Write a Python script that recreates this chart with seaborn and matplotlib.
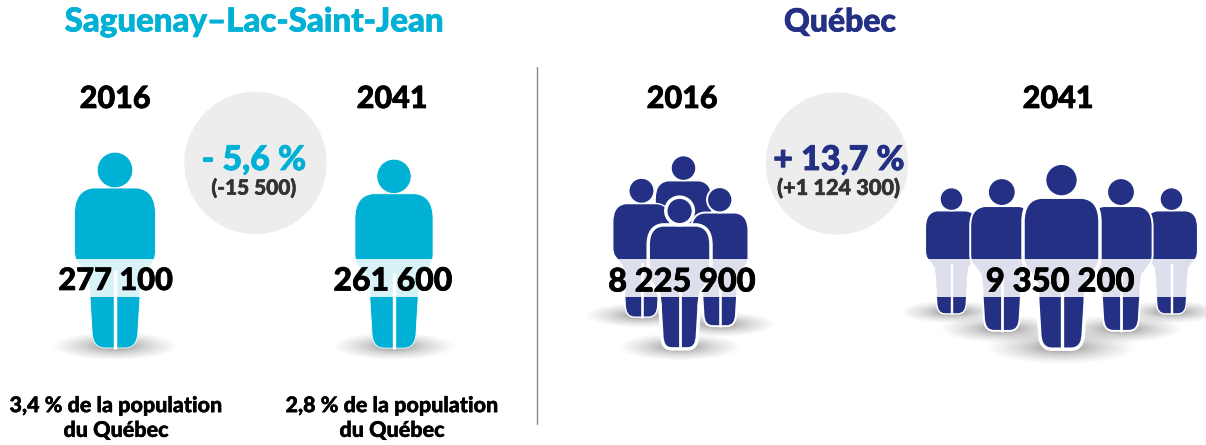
import matplotlib
matplotlib.use('Agg')
import matplotlib.pyplot as plt
import matplotlib.patheffects as pe
import seaborn as sns
from matplotlib.path import Path
from matplotlib.patches import PathPatch, Circle, Ellipse, Rectangle

# data
regions = ['Saguenay–Lac-Saint-Jean', 'Québec']
years = ['2016', '2041', '2016', '2041']
populations = ['277 100', '261 600', '8 225 900', '9 350 200']
changes_pct = ['- 5,6 %', '+ 13,7 %']
changes_abs = ['(-15 500)', '(+1 124 300)']
shares = ['3,4 % de la population\ndu Québec', '2,8 % de la population\ndu Québec']

CYAN = '#00b1d5'
NAVY = '#233084'
FONT = ['Lato', 'DejaVu Sans']

sns.set_theme(style='white')
plt.rcParams['font.family'] = FONT

fig = plt.figure(figsize=(12.06, 4.45), dpi=100)
ax = fig.add_axes([0, 0, 1, 1])
ax.set_xlim(0, 1206)
ax.set_ylim(445, 0)
ax.axis('off')


def label(x, y, text, color, size, stroke=0.5, **kw):
    t = ax.text(x, y, text, color=color, fontsize=size, fontweight='black', ha='center', va='center', zorder=40, **kw)
    t.set_path_effects([pe.withStroke(linewidth=stroke, foreground=color)])


def shadow(cx, y, s):
    n = 70
    for i in range(n):
        k = (1 - i / n) ** 3
        ax.add_patch(Ellipse((cx, y), 125 * s * k, 28 * s * k, fc='black', ec='none', alpha=0.012, zorder=1))


def person(cx, top, s, color, lw, z):
    # body outline for a figure 196 px tall, mirrored around cx
    left = [(-6, 36), (-22, 36), (-40.5, 38), (-40.5, 62), (-40.5, 98), (-40.5, 108), (-36, 112),
            (-27, 124), (-25, 140), (-25, 145), (-23, 178), (-23, 196), (-10, 196), (0, 196)]
    codes_l = [Path.MOVETO, Path.LINETO, Path.CURVE3, Path.CURVE3, Path.LINETO, Path.CURVE3, Path.CURVE3,
               Path.LINETO, Path.LINETO, Path.LINETO, Path.LINETO, Path.CURVE3, Path.CURVE3, Path.LINETO]
    right = [(-x, y) for x, y in left[::-1]]
    verts = left + right[1:] + [(-6, 36)]
    codes = codes_l + [Path.LINETO, Path.CURVE3, Path.CURVE3, Path.LINETO, Path.LINETO, Path.LINETO, Path.LINETO,
                       Path.CURVE3, Path.CURVE3, Path.LINETO, Path.CURVE3, Path.CURVE3, Path.LINETO, Path.CLOSEPOLY]
    verts = [(cx + x * s, top + y * s) for x, y in verts]
    ax.add_patch(PathPatch(Path(verts, codes), fc=color, ec='white', lw=lw, zorder=z))
    ax.add_patch(Circle((cx, top + 18 * s), 17.8 * s, fc=color, ec='white', lw=lw, zorder=z))
    ax.plot([cx, cx], [top + 118 * s, top + 197 * s], color='white', lw=2.2 * s + 0.3, zorder=z, solid_capstyle='butt')


# (cx, head top, scale, outline width)
people_left = [(115, 152, 1.0, 0.6), (394, 159, 0.965, 0.6)]
people_qc16 = [(683.5, 155.5, 0.70, 1.0), (641.5, 178, 0.71, 1.0), (719.7, 187, 0.71, 1.4), (679.6, 197, 0.775, 2.5)]
people_qc41 = [(951.5, 187.5, 0.645, 1.0), (1171.5, 187.5, 0.645, 1.0), (1001.8, 178, 0.78, 1.4),
               (1121, 178, 0.78, 1.4), (1061.5, 163, 0.95, 2.5)]

# divider
ax.plot([537, 537], [67, 424], color='#8a8a8a', lw=1.0, zorder=1)

# grey badges
sns.scatterplot(x=[255.5, 837], y=[163, 163.5], s=102.5 ** 2, color='#ededed', edgecolor='none', legend=False, ax=ax, zorder=1)
ax.set_xlim(0, 1206)
ax.set_ylim(445, 0)

z = 3
for group, color in [(people_left, CYAN), (people_qc16, NAVY), (people_qc41, NAVY)]:
    for cx, top, s, lw in group:
        shadow(cx, top + 196 * s - 2, s * (1.0 if color == CYAN else 1.25))
    for cx, top, s, lw in group:
        person(cx, top, s, color, lw, z)
        z += 1

# pale band across the legs
for x0, x1 in [(60, 170), (340, 445), (600, 760), (920, 1200)]:
    ax.add_patch(Rectangle((x0, 259), x1 - x0, 38, fc='white', ec='none', alpha=0.85, zorder=30))

# titles
label(254, 22, regions[0], CYAN, 23.8)
label(840, 22, regions[1], NAVY, 23)

for x, text in zip([115, 392, 682, 1058], years):
    label(x, 99, text, 'black', 22)

for x, y, size, text in zip([116, 393, 682, 1060], [281, 281, 282, 282], [22.2, 23, 23.4, 23.6], populations):
    label(x, y, text, 'black', size)

label(254, 160, changes_pct[0], CYAN, 24.5, stroke=0.6)
label(839, 160, changes_pct[1], NAVY, 24.5, stroke=0.6)
label(254, 188, changes_abs[0], '#333333', 15, stroke=0.4)
label(838.5, 188, changes_abs[1], '#333333', 15.6, stroke=0.4)

for x, text in zip([116, 392], shares):
    label(x, 418, text, 'black', 15.5, stroke=0.3, linespacing=1.22)

fig.savefig('out.png', dpi=100)
plt.close()
